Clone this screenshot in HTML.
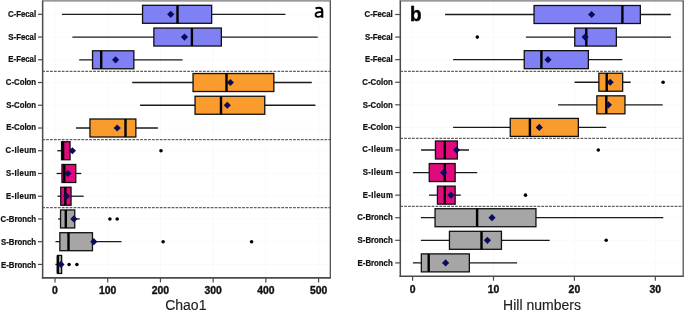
<!DOCTYPE html>
<html><head><meta charset="utf-8"><style>
html,body{margin:0;padding:0;background:#fff;}
body{width:685px;height:311px;overflow:hidden;}
svg{display:block;will-change:transform;}
.lab{font-family:"Liberation Sans",sans-serif;font-weight:bold;font-size:9.2px;fill:#111;stroke:#111;stroke-width:0.25px;}
.tk{font-family:"Liberation Sans",sans-serif;font-weight:bold;font-size:10.4px;fill:#111;stroke:#111;stroke-width:0.35px;}
.let{font-family:"Liberation Sans",sans-serif;font-weight:bold;font-size:21px;fill:#000;stroke:#000;stroke-width:0.5px;}
.ttl{font-family:"Liberation Sans",sans-serif;font-size:14px;fill:#222;stroke:#222;stroke-width:0.15px;}
</style></head><body>
<svg width="685" height="311" viewBox="0 0 685 311">
<rect width="685" height="311" fill="#fff"/>
<line x1="55.0" y1="0.8" x2="55.0" y2="277.9" stroke="#f9f9f9" stroke-width="1"/>
<line x1="107.72" y1="0.8" x2="107.72" y2="277.9" stroke="#f9f9f9" stroke-width="1"/>
<line x1="160.44" y1="0.8" x2="160.44" y2="277.9" stroke="#f9f9f9" stroke-width="1"/>
<line x1="213.16" y1="0.8" x2="213.16" y2="277.9" stroke="#f9f9f9" stroke-width="1"/>
<line x1="265.88" y1="0.8" x2="265.88" y2="277.9" stroke="#f9f9f9" stroke-width="1"/>
<line x1="318.6" y1="0.8" x2="318.6" y2="277.9" stroke="#f9f9f9" stroke-width="1"/>
<line x1="42.65" y1="14.3" x2="330.3" y2="14.3" stroke="#fafafa" stroke-width="1"/>
<line x1="42.65" y1="37.04" x2="330.3" y2="37.04" stroke="#fafafa" stroke-width="1"/>
<line x1="42.65" y1="59.78" x2="330.3" y2="59.78" stroke="#fafafa" stroke-width="1"/>
<line x1="42.65" y1="82.52" x2="330.3" y2="82.52" stroke="#fafafa" stroke-width="1"/>
<line x1="42.65" y1="105.25999999999999" x2="330.3" y2="105.25999999999999" stroke="#fafafa" stroke-width="1"/>
<line x1="42.65" y1="127.99999999999999" x2="330.3" y2="127.99999999999999" stroke="#fafafa" stroke-width="1"/>
<line x1="42.65" y1="150.74" x2="330.3" y2="150.74" stroke="#fafafa" stroke-width="1"/>
<line x1="42.65" y1="173.48" x2="330.3" y2="173.48" stroke="#fafafa" stroke-width="1"/>
<line x1="42.65" y1="196.22" x2="330.3" y2="196.22" stroke="#fafafa" stroke-width="1"/>
<line x1="42.65" y1="218.96" x2="330.3" y2="218.96" stroke="#fafafa" stroke-width="1"/>
<line x1="42.65" y1="241.7" x2="330.3" y2="241.7" stroke="#fafafa" stroke-width="1"/>
<line x1="42.65" y1="264.44" x2="330.3" y2="264.44" stroke="#fafafa" stroke-width="1"/>
<line x1="42.2" y1="71.3" x2="330.3" y2="71.3" stroke="#606060" stroke-width="1.25" stroke-dasharray="2.75 1.17"/>
<line x1="42.2" y1="139.6" x2="330.3" y2="139.6" stroke="#606060" stroke-width="1.25" stroke-dasharray="2.75 1.17"/>
<line x1="42.2" y1="207.7" x2="330.3" y2="207.7" stroke="#606060" stroke-width="1.25" stroke-dasharray="2.75 1.17"/>
<line x1="62" y1="14.3" x2="285.4" y2="14.3" stroke="#1a1a1a" stroke-width="1.3"/>
<rect x="142.55" y="5.30" width="69.10" height="18.0" fill="#8080F5" stroke="#111" stroke-width="1.3"/>
<line x1="177.5" y1="5.30" x2="177.5" y2="23.30" stroke="#000" stroke-width="2.4"/>
<path d="M167.10 14.30L170.70 10.70L174.30 14.30L170.70 17.90Z" fill="#0b0b5e"/>
<line x1="72.4" y1="37.04" x2="317.7" y2="37.04" stroke="#1a1a1a" stroke-width="1.3"/>
<rect x="153.85000000000002" y="28.04" width="67.50" height="18.0" fill="#8080F5" stroke="#111" stroke-width="1.3"/>
<line x1="191.9" y1="28.04" x2="191.9" y2="46.04" stroke="#000" stroke-width="2.4"/>
<path d="M180.90 37.04L184.50 33.44L188.10 37.04L184.50 40.64Z" fill="#0b0b5e"/>
<line x1="79.2" y1="59.78" x2="182.6" y2="59.78" stroke="#1a1a1a" stroke-width="1.3"/>
<rect x="92.55" y="50.78" width="41.30" height="18.0" fill="#8080F5" stroke="#111" stroke-width="1.3"/>
<line x1="101.2" y1="50.78" x2="101.2" y2="68.78" stroke="#000" stroke-width="2.4"/>
<path d="M112.00 59.78L115.60 56.18L119.20 59.78L115.60 63.38Z" fill="#0b0b5e"/>
<line x1="132.2" y1="82.52" x2="311.8" y2="82.52" stroke="#1a1a1a" stroke-width="1.3"/>
<rect x="193.05" y="73.52" width="80.80" height="18.0" fill="#FA9B2D" stroke="#111" stroke-width="1.3"/>
<line x1="226.5" y1="73.52" x2="226.5" y2="91.52" stroke="#000" stroke-width="2.4"/>
<path d="M226.80 82.52L230.40 78.92L234.00 82.52L230.40 86.12Z" fill="#0b0b5e"/>
<line x1="140.1" y1="105.25999999999999" x2="315.4" y2="105.25999999999999" stroke="#1a1a1a" stroke-width="1.3"/>
<rect x="195.05" y="96.26" width="69.70" height="18.0" fill="#FA9B2D" stroke="#111" stroke-width="1.3"/>
<line x1="221" y1="96.26" x2="221" y2="114.26" stroke="#000" stroke-width="2.4"/>
<path d="M223.70 105.26L227.30 101.66L230.90 105.26L227.30 108.86Z" fill="#0b0b5e"/>
<line x1="76.1" y1="127.99999999999999" x2="157.9" y2="127.99999999999999" stroke="#1a1a1a" stroke-width="1.3"/>
<rect x="89.95" y="119.00" width="45.90" height="18.0" fill="#FA9B2D" stroke="#111" stroke-width="1.3"/>
<line x1="125.5" y1="119.00" x2="125.5" y2="137.00" stroke="#000" stroke-width="2.4"/>
<path d="M113.60 128.00L117.20 124.40L120.80 128.00L117.20 131.60Z" fill="#0b0b5e"/>
<line x1="57.3" y1="150.74" x2="73" y2="150.74" stroke="#1a1a1a" stroke-width="1.3"/>
<rect x="61.55" y="141.74" width="8.50" height="18.0" fill="#E00A7D" stroke="#111" stroke-width="1.3"/>
<line x1="63.1" y1="141.74" x2="63.1" y2="159.74" stroke="#000" stroke-width="2.4"/>
<path d="M68.80 150.74L72.40 147.14L76.00 150.74L72.40 154.34Z" fill="#0b0b5e"/>
<circle cx="161" cy="150.74" r="1.8" fill="#000"/>
<line x1="56.6" y1="173.48" x2="81.3" y2="173.48" stroke="#1a1a1a" stroke-width="1.3"/>
<rect x="61.949999999999996" y="164.48" width="13.80" height="18.0" fill="#E00A7D" stroke="#111" stroke-width="1.3"/>
<line x1="64.3" y1="164.48" x2="64.3" y2="182.48" stroke="#000" stroke-width="2.4"/>
<path d="M64.30 173.48L67.90 169.88L71.50 173.48L67.90 177.08Z" fill="#0b0b5e"/>
<line x1="57.5" y1="196.22" x2="83.7" y2="196.22" stroke="#1a1a1a" stroke-width="1.3"/>
<rect x="60.75" y="187.22" width="10.30" height="18.0" fill="#E00A7D" stroke="#111" stroke-width="1.3"/>
<line x1="65.3" y1="187.22" x2="65.3" y2="205.22" stroke="#000" stroke-width="2.4"/>
<path d="M63.00 196.22L66.60 192.62L70.20 196.22L66.60 199.82Z" fill="#0b0b5e"/>
<line x1="58.1" y1="218.96" x2="79.7" y2="218.96" stroke="#1a1a1a" stroke-width="1.3"/>
<rect x="60.55" y="209.96" width="14.20" height="18.0" fill="#A6A6A6" stroke="#111" stroke-width="1.3"/>
<line x1="65.8" y1="209.96" x2="65.8" y2="227.96" stroke="#000" stroke-width="2.4"/>
<path d="M70.30 218.96L73.90 215.36L77.50 218.96L73.90 222.56Z" fill="#0b0b5e"/>
<circle cx="109.9" cy="218.96" r="1.8" fill="#000"/>
<circle cx="117.2" cy="218.96" r="1.8" fill="#000"/>
<line x1="55.5" y1="241.7" x2="121.5" y2="241.7" stroke="#1a1a1a" stroke-width="1.3"/>
<rect x="59.849999999999994" y="232.70" width="32.60" height="18.0" fill="#A6A6A6" stroke="#111" stroke-width="1.3"/>
<line x1="68.5" y1="232.70" x2="68.5" y2="250.70" stroke="#000" stroke-width="2.4"/>
<path d="M90.20 241.70L93.80 238.10L97.40 241.70L93.80 245.30Z" fill="#0b0b5e"/>
<circle cx="163.1" cy="241.7" r="1.8" fill="#000"/>
<circle cx="251.6" cy="241.7" r="1.8" fill="#000"/>
<line x1="55.4" y1="264.44" x2="62" y2="264.44" stroke="#1a1a1a" stroke-width="1.3"/>
<rect x="57.55" y="255.44" width="4.10" height="18.0" fill="#A6A6A6" stroke="#111" stroke-width="1.3"/>
<line x1="57.8" y1="255.44" x2="57.8" y2="273.44" stroke="#000" stroke-width="2.4"/>
<path d="M57.40 264.44L61.00 260.84L64.60 264.44L61.00 268.04Z" fill="#0b0b5e"/>
<circle cx="69.1" cy="264.44" r="1.8" fill="#000"/>
<circle cx="76.9" cy="264.44" r="1.8" fill="#000"/>
<rect x="41.949999999999996" y="0" width="288.95" height="1.7" fill="#999"/>
<line x1="330.3" y1="0.8" x2="330.3" y2="277.9" stroke="#444" stroke-width="1.2"/>
<line x1="42.65" y1="0.8" x2="42.65" y2="278.59999999999997" stroke="#4a4a4a" stroke-width="1.5"/>
<line x1="41.9" y1="277.9" x2="330.90000000000003" y2="277.9" stroke="#4a4a4a" stroke-width="1.6"/>
<line x1="38" y1="14.3" x2="42.65" y2="14.3" stroke="#4a4a4a" stroke-width="1.2"/>
<text transform="translate(36.1,17.10) scale(0.85,1)" text-anchor="end" class="lab">C-Fecal</text>
<line x1="38" y1="37.04" x2="42.65" y2="37.04" stroke="#4a4a4a" stroke-width="1.2"/>
<text transform="translate(36.1,40.10) scale(0.85,1)" text-anchor="end" class="lab">S-Fecal</text>
<line x1="38" y1="59.78" x2="42.65" y2="59.78" stroke="#4a4a4a" stroke-width="1.2"/>
<text transform="translate(36.1,61.80) scale(0.85,1)" text-anchor="end" class="lab">E-Fecal</text>
<line x1="38" y1="82.52" x2="42.65" y2="82.52" stroke="#4a4a4a" stroke-width="1.2"/>
<text transform="translate(36.1,84.80) scale(0.85,1)" text-anchor="end" class="lab">C-Colon</text>
<line x1="38" y1="105.25999999999999" x2="42.65" y2="105.25999999999999" stroke="#4a4a4a" stroke-width="1.2"/>
<text transform="translate(36.1,108.10) scale(0.85,1)" text-anchor="end" class="lab">S-Colon</text>
<line x1="38" y1="127.99999999999999" x2="42.65" y2="127.99999999999999" stroke="#4a4a4a" stroke-width="1.2"/>
<text transform="translate(36.1,130.40) scale(0.85,1)" text-anchor="end" class="lab">E-Colon</text>
<line x1="38" y1="150.74" x2="42.65" y2="150.74" stroke="#4a4a4a" stroke-width="1.2"/>
<text transform="translate(36.6,152.70) scale(0.85,1)" text-anchor="end" class="lab" letter-spacing="0.4">C-Ileum</text>
<line x1="38" y1="173.48" x2="42.65" y2="173.48" stroke="#4a4a4a" stroke-width="1.2"/>
<text transform="translate(36.6,176.30) scale(0.85,1)" text-anchor="end" class="lab" letter-spacing="0.4">S-Ileum</text>
<line x1="38" y1="196.22" x2="42.65" y2="196.22" stroke="#4a4a4a" stroke-width="1.2"/>
<text transform="translate(36.6,198.70) scale(0.85,1)" text-anchor="end" class="lab" letter-spacing="0.4">E-Ileum</text>
<line x1="38" y1="218.96" x2="42.65" y2="218.96" stroke="#4a4a4a" stroke-width="1.2"/>
<text transform="translate(36.1,221.70) scale(0.85,1)" text-anchor="end" class="lab">C-Bronch</text>
<line x1="38" y1="241.7" x2="42.65" y2="241.7" stroke="#4a4a4a" stroke-width="1.2"/>
<text transform="translate(36.1,244.70) scale(0.85,1)" text-anchor="end" class="lab">S-Bronch</text>
<line x1="38" y1="264.44" x2="42.65" y2="264.44" stroke="#4a4a4a" stroke-width="1.2"/>
<text transform="translate(36.1,267.60) scale(0.85,1)" text-anchor="end" class="lab">E-Bronch</text>
<line x1="55.0" y1="277.9" x2="55.0" y2="282.4" stroke="#4a4a4a" stroke-width="1.2"/>
<text x="55.0" y="293.7" text-anchor="middle" class="tk">0</text>
<line x1="107.72" y1="277.9" x2="107.72" y2="282.4" stroke="#4a4a4a" stroke-width="1.2"/>
<text x="107.72" y="293.7" text-anchor="middle" class="tk">100</text>
<line x1="160.44" y1="277.9" x2="160.44" y2="282.4" stroke="#4a4a4a" stroke-width="1.2"/>
<text x="160.44" y="293.7" text-anchor="middle" class="tk">200</text>
<line x1="213.16" y1="277.9" x2="213.16" y2="282.4" stroke="#4a4a4a" stroke-width="1.2"/>
<text x="213.16" y="293.7" text-anchor="middle" class="tk">300</text>
<line x1="265.88" y1="277.9" x2="265.88" y2="282.4" stroke="#4a4a4a" stroke-width="1.2"/>
<text x="265.88" y="293.7" text-anchor="middle" class="tk">400</text>
<line x1="318.6" y1="277.9" x2="318.6" y2="282.4" stroke="#4a4a4a" stroke-width="1.2"/>
<text x="318.6" y="293.7" text-anchor="middle" class="tk">500</text>
<path d="M315.5 8.4C316.7 7.9 317.9 7.75 318.9 7.75C321.1 7.75 322.2 8.8 322.2 10.9L322.2 17.7" fill="none" stroke="#000" stroke-width="2.2"/>
<path d="M322.2 12.1L319.6 12.1C316.8 12.1 315.6 13.3 315.6 14.8C315.6 16.3 316.5 16.85 317.9 16.85C319.7 16.85 321.2 16.0 322.2 15.1" fill="none" stroke="#000" stroke-width="1.9"/>
<text x="185.8" y="309.5" text-anchor="middle" class="ttl">Chao1</text>
<line x1="412.6" y1="0.8" x2="412.6" y2="276.25" stroke="#f9f9f9" stroke-width="1"/>
<line x1="493.5" y1="0.8" x2="493.5" y2="276.25" stroke="#f9f9f9" stroke-width="1"/>
<line x1="574.4" y1="0.8" x2="574.4" y2="276.25" stroke="#f9f9f9" stroke-width="1"/>
<line x1="655.3" y1="0.8" x2="655.3" y2="276.25" stroke="#f9f9f9" stroke-width="1"/>
<line x1="400.3" y1="14.5" x2="683.2" y2="14.5" stroke="#fafafa" stroke-width="1"/>
<line x1="400.3" y1="37.08" x2="683.2" y2="37.08" stroke="#fafafa" stroke-width="1"/>
<line x1="400.3" y1="59.66" x2="683.2" y2="59.66" stroke="#fafafa" stroke-width="1"/>
<line x1="400.3" y1="82.24" x2="683.2" y2="82.24" stroke="#fafafa" stroke-width="1"/>
<line x1="400.3" y1="104.82" x2="683.2" y2="104.82" stroke="#fafafa" stroke-width="1"/>
<line x1="400.3" y1="127.39999999999999" x2="683.2" y2="127.39999999999999" stroke="#fafafa" stroke-width="1"/>
<line x1="400.3" y1="149.98" x2="683.2" y2="149.98" stroke="#fafafa" stroke-width="1"/>
<line x1="400.3" y1="172.56" x2="683.2" y2="172.56" stroke="#fafafa" stroke-width="1"/>
<line x1="400.3" y1="195.14" x2="683.2" y2="195.14" stroke="#fafafa" stroke-width="1"/>
<line x1="400.3" y1="217.71999999999997" x2="683.2" y2="217.71999999999997" stroke="#fafafa" stroke-width="1"/>
<line x1="400.3" y1="240.29999999999998" x2="683.2" y2="240.29999999999998" stroke="#fafafa" stroke-width="1"/>
<line x1="400.3" y1="262.88" x2="683.2" y2="262.88" stroke="#fafafa" stroke-width="1"/>
<line x1="400.2" y1="71.3" x2="683.2" y2="71.3" stroke="#606060" stroke-width="1.25" stroke-dasharray="2.75 1.17"/>
<line x1="400.2" y1="138.4" x2="683.2" y2="138.4" stroke="#606060" stroke-width="1.25" stroke-dasharray="2.75 1.17"/>
<line x1="400.2" y1="206.4" x2="683.2" y2="206.4" stroke="#606060" stroke-width="1.25" stroke-dasharray="2.75 1.17"/>
<line x1="445.1" y1="14.5" x2="670.8" y2="14.5" stroke="#1a1a1a" stroke-width="1.3"/>
<rect x="534.05" y="5.50" width="106.30" height="18.0" fill="#8080F5" stroke="#111" stroke-width="1.3"/>
<line x1="622.4" y1="5.50" x2="622.4" y2="23.50" stroke="#000" stroke-width="2.4"/>
<path d="M588.00 14.50L591.60 10.90L595.20 14.50L591.60 18.10Z" fill="#0b0b5e"/>
<line x1="525.9" y1="37.08" x2="671" y2="37.08" stroke="#1a1a1a" stroke-width="1.3"/>
<rect x="574.75" y="28.08" width="41.60" height="18.0" fill="#8080F5" stroke="#111" stroke-width="1.3"/>
<line x1="586.3" y1="28.08" x2="586.3" y2="46.08" stroke="#000" stroke-width="2.4"/>
<path d="M581.50 37.08L585.10 33.48L588.70 37.08L585.10 40.68Z" fill="#0b0b5e"/>
<circle cx="477.3" cy="37.08" r="1.8" fill="#000"/>
<line x1="453.1" y1="59.66" x2="622.3" y2="59.66" stroke="#1a1a1a" stroke-width="1.3"/>
<rect x="524.25" y="50.66" width="64.10" height="18.0" fill="#8080F5" stroke="#111" stroke-width="1.3"/>
<line x1="541.4" y1="50.66" x2="541.4" y2="68.66" stroke="#000" stroke-width="2.4"/>
<path d="M544.40 59.66L548.00 56.06L551.60 59.66L548.00 63.26Z" fill="#0b0b5e"/>
<line x1="574.6" y1="82.24" x2="630.7" y2="82.24" stroke="#1a1a1a" stroke-width="1.3"/>
<rect x="598.8499999999999" y="73.24" width="23.80" height="18.0" fill="#FA9B2D" stroke="#111" stroke-width="1.3"/>
<line x1="606.7" y1="73.24" x2="606.7" y2="91.24" stroke="#000" stroke-width="2.4"/>
<path d="M606.60 82.24L610.20 78.64L613.80 82.24L610.20 85.84Z" fill="#0b0b5e"/>
<circle cx="663.1" cy="82.24" r="1.8" fill="#000"/>
<line x1="558.1" y1="104.82" x2="662.7" y2="104.82" stroke="#1a1a1a" stroke-width="1.3"/>
<rect x="596.8499999999999" y="95.82" width="28.10" height="18.0" fill="#FA9B2D" stroke="#111" stroke-width="1.3"/>
<line x1="606.3" y1="95.82" x2="606.3" y2="113.82" stroke="#000" stroke-width="2.4"/>
<path d="M604.80 104.82L608.40 101.22L612.00 104.82L608.40 108.42Z" fill="#0b0b5e"/>
<line x1="453.1" y1="127.39999999999999" x2="606.2" y2="127.39999999999999" stroke="#1a1a1a" stroke-width="1.3"/>
<rect x="510.25" y="118.40" width="68.10" height="18.0" fill="#FA9B2D" stroke="#111" stroke-width="1.3"/>
<line x1="529.9" y1="118.40" x2="529.9" y2="136.40" stroke="#000" stroke-width="2.4"/>
<path d="M535.70 127.40L539.30 123.80L542.90 127.40L539.30 131.00Z" fill="#0b0b5e"/>
<line x1="421.1" y1="149.98" x2="469" y2="149.98" stroke="#1a1a1a" stroke-width="1.3"/>
<rect x="435.45" y="140.98" width="21.90" height="18.0" fill="#E00A7D" stroke="#111" stroke-width="1.3"/>
<line x1="444.8" y1="140.98" x2="444.8" y2="158.98" stroke="#000" stroke-width="2.4"/>
<path d="M452.90 149.98L456.50 146.38L460.10 149.98L456.50 153.58Z" fill="#0b0b5e"/>
<circle cx="598.3" cy="149.98" r="1.8" fill="#000"/>
<line x1="412.9" y1="172.56" x2="477.2" y2="172.56" stroke="#1a1a1a" stroke-width="1.3"/>
<rect x="429.25" y="163.56" width="25.90" height="18.0" fill="#E00A7D" stroke="#111" stroke-width="1.3"/>
<line x1="444.8" y1="163.56" x2="444.8" y2="181.56" stroke="#000" stroke-width="2.4"/>
<path d="M440.00 172.56L443.60 168.96L447.20 172.56L443.60 176.16Z" fill="#0b0b5e"/>
<line x1="429" y1="195.14" x2="460.8" y2="195.14" stroke="#1a1a1a" stroke-width="1.3"/>
<rect x="437.45" y="186.14" width="17.70" height="18.0" fill="#E00A7D" stroke="#111" stroke-width="1.3"/>
<line x1="444.8" y1="186.14" x2="444.8" y2="204.14" stroke="#000" stroke-width="2.4"/>
<path d="M447.30 195.14L450.90 191.54L454.50 195.14L450.90 198.74Z" fill="#0b0b5e"/>
<circle cx="525.5" cy="195.14" r="1.8" fill="#000"/>
<line x1="420.9" y1="217.71999999999997" x2="663.3" y2="217.71999999999997" stroke="#1a1a1a" stroke-width="1.3"/>
<rect x="435.05" y="208.72" width="100.90" height="18.0" fill="#A6A6A6" stroke="#111" stroke-width="1.3"/>
<line x1="477.1" y1="208.72" x2="477.1" y2="226.72" stroke="#000" stroke-width="2.4"/>
<path d="M488.40 217.72L492.00 214.12L495.60 217.72L492.00 221.32Z" fill="#0b0b5e"/>
<line x1="420.9" y1="240.29999999999998" x2="549.7" y2="240.29999999999998" stroke="#1a1a1a" stroke-width="1.3"/>
<rect x="449.45" y="231.30" width="52.00" height="18.0" fill="#A6A6A6" stroke="#111" stroke-width="1.3"/>
<line x1="481.5" y1="231.30" x2="481.5" y2="249.30" stroke="#000" stroke-width="2.4"/>
<path d="M483.80 240.30L487.40 236.70L491.00 240.30L487.40 243.90Z" fill="#0b0b5e"/>
<circle cx="606.2" cy="240.29999999999998" r="1.8" fill="#000"/>
<line x1="412.9" y1="262.88" x2="517.1" y2="262.88" stroke="#1a1a1a" stroke-width="1.3"/>
<rect x="421.35" y="253.88" width="48.00" height="18.0" fill="#A6A6A6" stroke="#111" stroke-width="1.3"/>
<line x1="428.7" y1="253.88" x2="428.7" y2="271.88" stroke="#000" stroke-width="2.4"/>
<path d="M442.00 262.88L445.60 259.28L449.20 262.88L445.60 266.48Z" fill="#0b0b5e"/>
<rect x="399.6" y="0" width="284.20" height="1.7" fill="#999"/>
<line x1="683.2" y1="0.8" x2="683.2" y2="276.25" stroke="#444" stroke-width="1.2"/>
<line x1="400.3" y1="0.8" x2="400.3" y2="276.95" stroke="#4a4a4a" stroke-width="1.5"/>
<line x1="399.55" y1="276.25" x2="683.8000000000001" y2="276.25" stroke="#4a4a4a" stroke-width="1.6"/>
<line x1="395.2" y1="14.5" x2="400.3" y2="14.5" stroke="#4a4a4a" stroke-width="1.2"/>
<text transform="translate(392.7,17.30) scale(0.85,1)" text-anchor="end" class="lab">C-Fecal</text>
<line x1="395.2" y1="37.08" x2="400.3" y2="37.08" stroke="#4a4a4a" stroke-width="1.2"/>
<text transform="translate(392.7,40.14) scale(0.85,1)" text-anchor="end" class="lab">S-Fecal</text>
<line x1="395.2" y1="59.66" x2="400.3" y2="59.66" stroke="#4a4a4a" stroke-width="1.2"/>
<text transform="translate(392.7,61.68) scale(0.85,1)" text-anchor="end" class="lab">E-Fecal</text>
<line x1="395.2" y1="82.24" x2="400.3" y2="82.24" stroke="#4a4a4a" stroke-width="1.2"/>
<text transform="translate(392.7,84.52) scale(0.85,1)" text-anchor="end" class="lab">C-Colon</text>
<line x1="395.2" y1="104.82" x2="400.3" y2="104.82" stroke="#4a4a4a" stroke-width="1.2"/>
<text transform="translate(392.7,107.66) scale(0.85,1)" text-anchor="end" class="lab">S-Colon</text>
<line x1="395.2" y1="127.39999999999999" x2="400.3" y2="127.39999999999999" stroke="#4a4a4a" stroke-width="1.2"/>
<text transform="translate(392.7,129.80) scale(0.85,1)" text-anchor="end" class="lab">E-Colon</text>
<line x1="395.2" y1="149.98" x2="400.3" y2="149.98" stroke="#4a4a4a" stroke-width="1.2"/>
<text transform="translate(393.2,151.94) scale(0.85,1)" text-anchor="end" class="lab" letter-spacing="0.4">C-Ileum</text>
<line x1="395.2" y1="172.56" x2="400.3" y2="172.56" stroke="#4a4a4a" stroke-width="1.2"/>
<text transform="translate(393.2,175.38) scale(0.85,1)" text-anchor="end" class="lab" letter-spacing="0.4">S-Ileum</text>
<line x1="395.2" y1="195.14" x2="400.3" y2="195.14" stroke="#4a4a4a" stroke-width="1.2"/>
<text transform="translate(393.2,197.62) scale(0.85,1)" text-anchor="end" class="lab" letter-spacing="0.4">E-Ileum</text>
<line x1="395.2" y1="217.71999999999997" x2="400.3" y2="217.71999999999997" stroke="#4a4a4a" stroke-width="1.2"/>
<text transform="translate(392.7,220.46) scale(0.85,1)" text-anchor="end" class="lab">C-Bronch</text>
<line x1="395.2" y1="240.29999999999998" x2="400.3" y2="240.29999999999998" stroke="#4a4a4a" stroke-width="1.2"/>
<text transform="translate(392.7,243.30) scale(0.85,1)" text-anchor="end" class="lab">S-Bronch</text>
<line x1="395.2" y1="262.88" x2="400.3" y2="262.88" stroke="#4a4a4a" stroke-width="1.2"/>
<text transform="translate(392.7,266.04) scale(0.85,1)" text-anchor="end" class="lab">E-Bronch</text>
<line x1="412.6" y1="276.25" x2="412.6" y2="280.75" stroke="#4a4a4a" stroke-width="1.2"/>
<text x="412.6" y="293.3" text-anchor="middle" class="tk">0</text>
<line x1="493.5" y1="276.25" x2="493.5" y2="280.75" stroke="#4a4a4a" stroke-width="1.2"/>
<text x="493.5" y="293.3" text-anchor="middle" class="tk">10</text>
<line x1="574.4" y1="276.25" x2="574.4" y2="280.75" stroke="#4a4a4a" stroke-width="1.2"/>
<text x="574.4" y="293.3" text-anchor="middle" class="tk">20</text>
<line x1="655.3" y1="276.25" x2="655.3" y2="280.75" stroke="#4a4a4a" stroke-width="1.2"/>
<text x="655.3" y="293.3" text-anchor="middle" class="tk">30</text>
<text transform="translate(410.1,21.0) scale(0.9,1)" class="let">b</text>
<text x="542" y="309.5" text-anchor="middle" class="ttl">Hill numbers</text>
</svg>
</body></html>
